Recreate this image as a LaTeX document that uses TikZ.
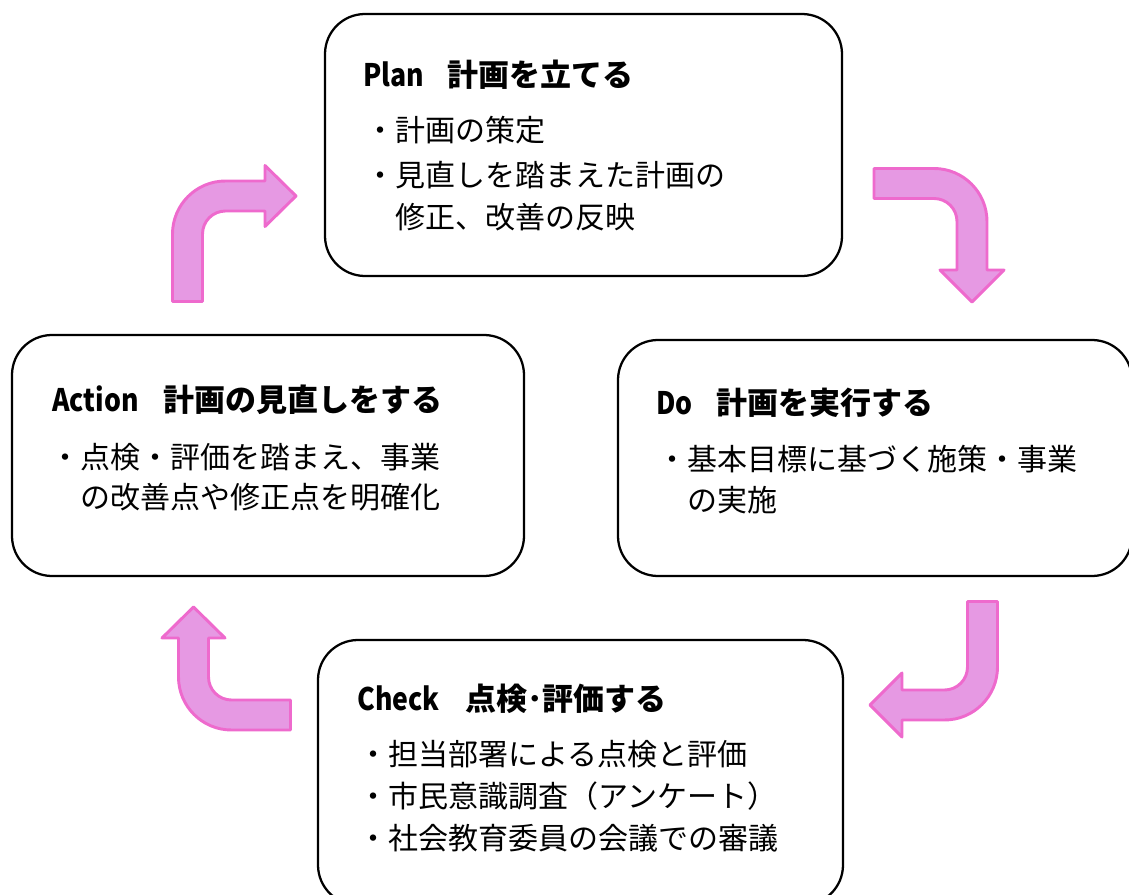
\documentclass[tikz,border=0pt]{standalone}
\usepackage{fontspec}
\usepackage{graphicx}
\newfontfamily\jp{Noto Sans CJK JP}
\definecolor{pinkfill}{RGB}{230,153,227}
\definecolor{pinkline}{RGB}{238,106,205}
\newcommand{\latw}[1]{\scalebox{0.86}[1]{\bfseries #1}}
\begin{document}
\begin{tikzpicture}[x=0.75pt,y=0.75pt,
  box/.style={draw=black,line width=1.7pt,rounded corners=30pt,fill=white},
  ttl/.style={anchor=west,inner sep=0pt,font=\jp\fontsize{23.25}{28}\selectfont,text height=20.5pt,text depth=2.8pt},
  body/.style={anchor=west,inner sep=0pt,font=\jp\fontsize{22.5}{27}\selectfont,text height=19.8pt,text depth=2.7pt},
  pinkarrow/.style={fill=pinkfill,draw=pinkline,line width=2.2pt,line join=round}]
\useasboundingbox (0,0) rectangle (1129,-895);
\clip (0,0) rectangle (1129,-895);
% boxes
\node[box,minimum width=387.75pt,minimum height=196.5pt] (plan) at (583.5,-145) {};
\node[box,minimum width=384pt,minimum height=180.75pt] (action) at (268,-455.5) {};
\node[box,minimum width=385.5pt,minimum height=177pt] (do) at (875,-458) {};
\node[box,minimum width=393.75pt,minimum height=198.75pt] (check) at (580.5,-772.5) {};
% Plan
\node[ttl] (plant) at (363,-75) {\makebox[63pt][l]{\latw{Plan}}\bfseries 計画を立てる};
\node[body] (plan1) at (365,-130) {・計画の策定};
\node[body] (plan2) at (365,-175) {・見直しを踏まえた計画の};
\node[body] (plan3) at (395,-217) {修正、改善の反映};
% Action
\node[ttl] (actiont) at (52,-400) {\makebox[83.25pt][l]{\latw{Action}}\bfseries 計画の見直しをする};
\node[body] (action1) at (50,-457) {・点検・評価を踏まえ、事業};
\node[body] (action2) at (80,-497) {の改善点や修正点を明確化};
% Do
\node[ttl] (dot) at (656,-403) {\makebox[45pt][l]{\latw{Do}}\bfseries 計画を実行する};
\node[body] (do1) at (657,-459) {・基本目標に基づく施策・事業};
\node[body] (do2) at (687,-500) {の実施};
% Check
\node[ttl] (checkt) at (357,-699) {\makebox[81pt][l]{\latw{Check}}\bfseries 点検･評価する};
\node[body] (check1) at (358,-754) {・担当部署による点検と評価};
\node[body] (check2) at (358,-796) {・市民意識調査（アンケート）};
\node[body] (check3) at (358,-838) {・社会教育委員の会議での審議};
% arrows
\draw[pinkarrow] (874,-168.5) -- (934,-168.5) arc[start angle=90,end angle=0,radius=53]
  -- (987,-270) -- (1004,-270) -- (972,-302) -- (940,-270) -- (957,-270) -- (957,-221.5)
  arc[start angle=0,end angle=90,radius=23] -- (874,-198.5) -- cycle;
\draw[pinkarrow] (172.5,-301.5) -- (172.5,-234) arc[start angle=180,end angle=90,radius=53]
  -- (265,-181) -- (265,-165.5) -- (296,-196) -- (265,-226.5) -- (265,-211) -- (225.5,-211)
  arc[start angle=90,end angle=180,radius=23] -- (202.5,-301.5) -- cycle;
\draw[pinkarrow] (967.5,-601.5) -- (997.5,-601.5) -- (997.5,-667) arc[start angle=0,end angle=-90,radius=53]
  -- (902,-720) -- (902,-737) -- (870,-705) -- (902,-673) -- (902,-690) -- (944.5,-690)
  arc[start angle=-90,end angle=0,radius=23] -- cycle;
\draw[pinkarrow] (290.5,-700) -- (290.5,-730) -- (231.5,-730) arc[start angle=270,end angle=180,radius=53]
  -- (178.5,-638) -- (162,-638) -- (193.5,-607) -- (225,-638) -- (208.5,-638) -- (208.5,-677)
  arc[start angle=180,end angle=270,radius=23] -- cycle;
\end{tikzpicture}
\end{document}
